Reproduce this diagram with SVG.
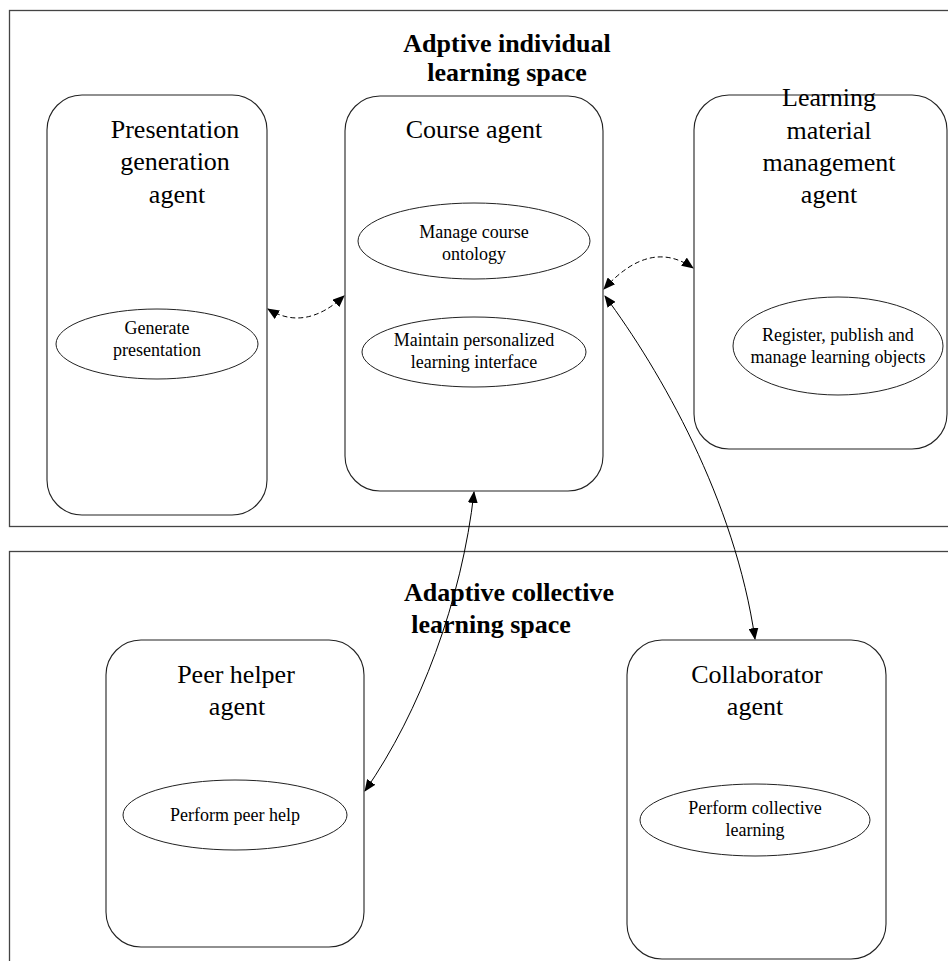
<svg xmlns="http://www.w3.org/2000/svg" width="948" height="961" viewBox="0 0 948 961">
<style>
  .space { fill: none; stroke: #444; stroke-width: 1.3; }
  .agent { fill: none; stroke: #222; stroke-width: 1.1; }
  .task { fill: none; stroke: #222; stroke-width: 1; }
  .hdr { font-family: "Liberation Serif", "Times New Roman", serif; font-weight: bold; font-size: 26px; fill: #000; text-anchor: middle; }
  .ttl { font-family: "Liberation Serif", "Times New Roman", serif; font-size: 26px; fill: #000; text-anchor: middle; }
  .tsk { font-family: "Liberation Serif", "Times New Roman", serif; font-size: 18px; fill: #000; text-anchor: middle; }
  .dash { fill: none; stroke: #000; stroke-width: 1; stroke-dasharray: 5 3; }
  .solid { fill: none; stroke: #000; stroke-width: 1; }
</style>
<defs>
  <marker id="arr" viewBox="0 0 12 10" refX="11" refY="5" markerWidth="12" markerHeight="10" markerUnits="userSpaceOnUse" orient="auto-start-reverse">
    <path d="M0,0 L12,5 L0,10 Z" fill="#000"/>
  </marker>
</defs>
<rect width="948" height="961" fill="#fff"/>

<g id="individual-space">
  <rect class="space" x="9.5" y="10.5" width="960" height="516"/>
  <text class="hdr" x="507" y="52">Adptive individual</text>
  <text class="hdr" x="507" y="81">learning space</text>
</g>
<g id="collective-space">
  <rect class="space" x="9.5" y="551.5" width="960" height="430"/>
  <text class="hdr" x="509" y="601">Adaptive collective</text>
  <text class="hdr" x="491" y="633">learning space</text>
</g>

<g id="presentation-agent">
  <rect class="agent" x="47" y="95" width="220" height="420" rx="35" ry="35"/>
  <text class="ttl" x="175" y="138">Presentation</text>
  <text class="ttl" x="175" y="170">generation</text>
  <text class="ttl" x="177" y="203">agent</text>
  <ellipse class="task" cx="157" cy="344" rx="101" ry="35"/>
  <text class="tsk" x="157" y="334">Generate</text>
  <text class="tsk" x="157" y="356">presentation</text>
</g>

<g id="course-agent">
  <rect class="agent" x="345" y="96" width="258" height="395" rx="35" ry="35"/>
  <text class="ttl" x="474" y="138">Course agent</text>
  <ellipse class="task" cx="474" cy="241" rx="116" ry="38"/>
  <text class="tsk" x="474" y="238">Manage course</text>
  <text class="tsk" x="474" y="260">ontology</text>
  <ellipse class="task" cx="474" cy="352" rx="112" ry="35"/>
  <text class="tsk" x="474" y="346">Maintain personalized</text>
  <text class="tsk" x="474" y="368">learning interface</text>
</g>

<g id="learning-material-agent">
  <rect class="agent" x="694" y="95" width="253" height="354" rx="35" ry="35"/>
  <text class="ttl" x="829" y="106">Learning</text>
  <text class="ttl" x="829" y="139">material</text>
  <text class="ttl" x="829" y="171">management</text>
  <text class="ttl" x="829" y="203">agent</text>
  <ellipse class="task" cx="838" cy="346" rx="105" ry="49"/>
  <text class="tsk" x="838" y="341">Register, publish and</text>
  <text class="tsk" x="838" y="363">manage learning objects</text>
</g>

<g id="peer-helper-agent">
  <rect class="agent" x="106" y="640" width="258" height="307" rx="35" ry="35"/>
  <text class="ttl" x="236" y="683">Peer helper</text>
  <text class="ttl" x="237" y="715">agent</text>
  <ellipse class="task" cx="235" cy="815" rx="112" ry="35"/>
  <text class="tsk" x="235" y="821">Perform peer help</text>
</g>

<g id="collaborator-agent">
  <rect class="agent" x="627" y="640" width="259" height="319" rx="35" ry="35"/>
  <text class="ttl" x="757" y="683">Collaborator</text>
  <text class="ttl" x="755" y="715">agent</text>
  <ellipse class="task" cx="755" cy="820" rx="115" ry="36"/>
  <text class="tsk" x="755" y="814">Perform collective</text>
  <text class="tsk" x="755" y="836">learning</text>
</g>

<g id="connectors">
  <path class="dash" d="M268,309 Q305,332 344,296" marker-start="url(#arr)" marker-end="url(#arr)"/>
  <path class="dash" d="M604,289 Q650,238 693,268" marker-start="url(#arr)" marker-end="url(#arr)"/>
  <path class="solid" d="M474,492 C462,600 420,712 365,791" marker-start="url(#arr)" marker-end="url(#arr)"/>
  <path class="solid" d="M605,296 C660,370 735,500 755,639" marker-start="url(#arr)" marker-end="url(#arr)"/>
</g>
</svg>
